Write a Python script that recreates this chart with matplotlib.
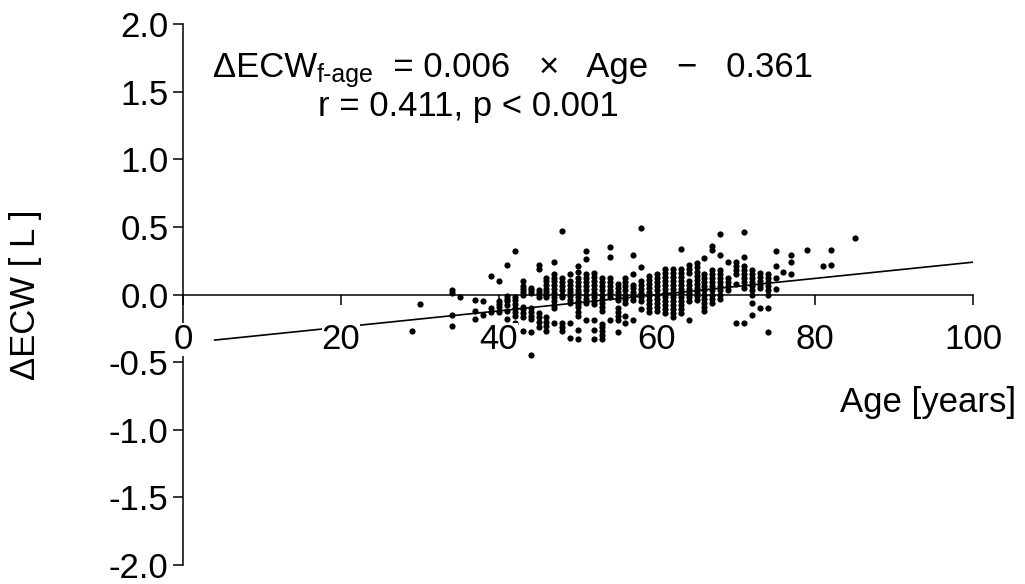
import matplotlib
matplotlib.use("Agg")
import matplotlib.pyplot as plt

plt.rcParams['font.family'] = ['Liberation Sans', 'DejaVu Sans']
plt.rcParams['axes.unicode_minus'] = False

# ages (one column of dots per age) and the dECW values seen in that column
age_cols = [29, 30, 34, 35, 37, 38, 39, 40, 41, 42, 43, 44, 45, 46, 47, 48, 49,
            50, 51, 52, 53, 54, 55, 56, 57, 58, 59, 60, 61, 62, 63, 64, 65, 66,
            67, 68, 69, 70, 71, 72, 73, 74, 75, 76, 77, 79, 81, 82, 85]
ecw_cols = [
    [-0.27],
    [-0.07],
    [0.03, 0.01, -0.15, -0.23],
    [-0.02],
    [-0.04, -0.12, -0.18],
    [-0.15, -0.05],
    [0.14, -0.10, -0.13],
    [0.10, -0.05, -0.07, -0.09, -0.13],
    [0.22, -0.01, -0.03, -0.05, -0.08, -0.12, -0.18],
    [0.32, -0.02, -0.04, -0.07, -0.10, -0.13, -0.16, -0.21],
    [0.10, 0.06, 0.04, 0.02, 0.00, -0.09, -0.11, -0.14, -0.17, -0.27],
    [0.05, 0.03, 0.01, -0.10, -0.13, -0.16, -0.18, -0.28, -0.45],
    [0.22, 0.19, 0.03, 0.01, -0.02, -0.14, -0.17, -0.20, -0.24],
    [0.12, 0.10, 0.07, 0.04, 0.02, 0.00, -0.02, -0.17, -0.20, -0.23, -0.27],
    [0.24, 0.15, 0.12, 0.10, 0.07, 0.04, 0.01, -0.02, -0.05, -0.08, -0.10, -0.21],
    [0.47, 0.12, 0.09, 0.06, 0.03, 0.00, -0.02, -0.21, -0.24, -0.27],
    [0.15, 0.10, 0.07, 0.04, 0.02, -0.01, -0.04, -0.06, -0.21, -0.32],
    [0.21, 0.17, 0.12, 0.09, 0.06, 0.03, 0.01, -0.02, -0.05, -0.07, -0.09, -0.13, -0.16, -0.26, -0.33],
    [0.32, 0.26, 0.15, 0.12, 0.09, 0.06, 0.03, 0.00, -0.03, -0.06, -0.19],
    [0.16, 0.13, 0.10, 0.07, 0.04, 0.01, -0.02, -0.05, -0.07, -0.19, -0.26, -0.33],
    [0.12, 0.09, 0.06, 0.03, 0.00, -0.03, -0.06, -0.09, -0.12, -0.22, -0.24, -0.27, -0.30, -0.33],
    [0.35, 0.28, 0.12, 0.09, 0.06, 0.03, 0.01, -0.02, -0.19],
    [0.08, 0.05, 0.02, -0.01, -0.04, -0.10, -0.13, -0.16, -0.19, -0.28],
    [0.12, 0.09, 0.06, 0.03, 0.00, -0.03, -0.06, -0.16, -0.21],
    [0.29, 0.15, 0.07, 0.05, 0.02, -0.01, -0.04, -0.19],
    [0.49, 0.20, 0.10, 0.07, 0.04, 0.01, -0.02, -0.05, -0.11],
    [0.14, 0.11, 0.08, 0.05, 0.02, -0.01, -0.04, -0.07, -0.10, -0.13],
    [0.15, 0.12, 0.09, 0.06, 0.03, 0.00, -0.03, -0.06, -0.09, -0.12],
    [0.19, 0.16, 0.13, 0.10, 0.07, 0.04, 0.01, -0.02, -0.05, -0.08, -0.11, -0.14],
    [0.19, 0.16, 0.13, 0.10, 0.07, 0.04, 0.01, -0.02, -0.05, -0.08, -0.11, -0.14, -0.17],
    [0.34, 0.19, 0.16, 0.13, 0.10, 0.07, 0.04, 0.01, -0.02, -0.05, -0.08, -0.11, -0.14],
    [0.22, 0.19, 0.16, 0.10, 0.07, 0.04, 0.01, -0.02, -0.05, -0.19],
    [0.23, 0.20, 0.17, 0.14, 0.11, 0.08, 0.05, 0.02, -0.01, -0.04],
    [0.27, 0.15, 0.12, 0.09, 0.06, 0.03, 0.00, -0.03, -0.06, -0.09, -0.12],
    [0.36, 0.33, 0.18, 0.15, 0.12, 0.09, 0.06, 0.03, 0.00, -0.03, -0.06],
    [0.45, 0.29, 0.18, 0.15, 0.12, 0.09, 0.06, 0.03, 0.00, -0.03],
    [0.24, 0.12, 0.09, 0.06, 0.03],
    [0.24, 0.21, 0.18, 0.15, 0.08, -0.21],
    [0.46, 0.28, 0.21, 0.18, 0.15, 0.12, 0.09, 0.05, -0.21],
    [0.18, 0.15, 0.12, 0.09, 0.06, 0.03, 0.00, -0.06, -0.15],
    [0.16, 0.13, 0.10, 0.07, 0.05, -0.10],
    [0.15, 0.12, 0.09, 0.06, 0.03, 0.00, -0.10, -0.28],
    [0.32, 0.21, 0.12, 0.04],
    [0.17],
    [0.29, 0.24, 0.15],
    [0.33],
    [0.21],
    [0.33, 0.22],
    [0.42],
]

# trendline from the equation in the chart
slope = 0.006
intercept = -0.361
fit_x = [4, 100]

x_ticks = [0, 20, 40, 60, 80, 100]
y_ticks = [-2.0, -1.5, -1.0, -0.5, 0.0, 0.5, 1.0, 1.5, 2.0]

ages = []
decw = []
for a, vals in zip(age_cols, ecw_cols):
    for v in vals:
        ages.append(a)
        decw.append(v)

fs = 25
fig = plt.figure(figsize=(10.25, 5.84), dpi=100)
ax = fig.add_axes([183 / 1025, 19 / 584, 790 / 1025, 541 / 584])

ax.scatter(ages, decw, s=20, c='black', linewidths=0, zorder=1)
ax.plot(fit_x, [slope * x + intercept for x in fit_x], color='black', lw=1.2, zorder=2)

ax.set_xlim(0, 100)
ax.set_ylim(-2, 2)
ax.spines['top'].set_visible(False)
ax.spines['right'].set_visible(False)
ax.spines['bottom'].set_position(('data', 0))
ax.spines['left'].set_linewidth(1.1)
ax.spines['bottom'].set_linewidth(1.1)
ax.set_xticks(x_ticks)
ax.set_yticks(y_ticks)
ax.set_xticklabels([str(t) for t in x_ticks])
ax.set_yticklabels(['%.1f' % t for t in y_ticks])
ax.tick_params(direction='out', length=7.5, width=1.1, labelsize=fs)
ax.tick_params(axis='x', pad=13)
ax.tick_params(axis='y', pad=3)
ax.xaxis.set_zorder(3)
for lab in ax.get_xticklabels():
    lab.set_bbox(dict(facecolor='white', edgecolor='none', pad=0))

ax.set_ylabel('ΔECW [ L ]', fontsize=fs)
ax.yaxis.set_label_coords(-0.178, 0.5)
ax.text(105.5, -0.8, 'Age [years]', fontsize=fs, ha='right', va='center', clip_on=False)

# equation with subscript, pieced together
t1 = ax.text(3.8, 1.61, 'ΔECW', fontsize=fs, va='baseline')
t2 = ax.annotate('f-age', xy=(1, 0), xycoords=t1, xytext=(0, 1), textcoords='offset points',
                 fontsize=18, va='baseline')
ax.annotate('  = 0.006   ×   Age   −   0.361', xy=(1, 0), xycoords=(t2, t1),
            fontsize=fs, va='bottom')
ax.text(17.1, 1.39, 'r = 0.411, p < 0.001', fontsize=fs, va='center')

fig.savefig('out.png', dpi=100)
